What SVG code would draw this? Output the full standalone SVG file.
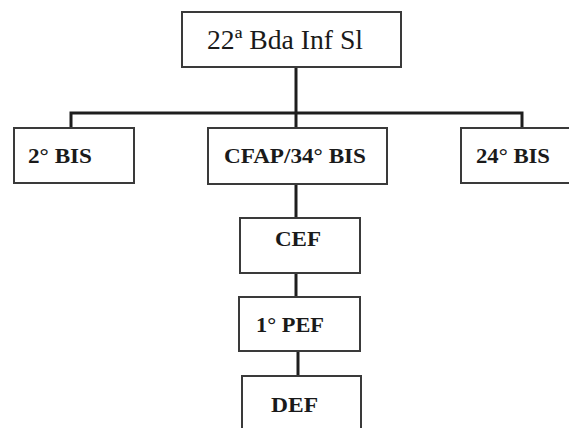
<svg xmlns="http://www.w3.org/2000/svg" width="569" height="428" viewBox="0 0 569 428">
<style>
.box{fill:#fff;stroke:#3a3a3a;stroke-width:2}
.lbl{font-family:'Liberation Serif','Times New Roman',serif;font-weight:bold;font-size:22px;fill:#1a1a1a}
.top{font-family:'Liberation Serif','Times New Roman',serif;font-size:28px;fill:#1a1a1a}
.con{stroke:#1e1e1e;stroke-width:3;fill:none}
</style>
<rect width="569" height="428" fill="#fff"/>
<g id="connectors">
<path class="con" d="M296 67V128"/>
<path class="con" d="M71 128V113H522V128"/>
<path class="con" d="M296 184V218"/>
<path class="con" d="M296 273V297"/>
<path class="con" d="M298 351V376"/>
</g>
<g id="n22bda"><rect class="box" x="182" y="12" width="219" height="55"/><text class="top" x="207" y="49" textLength="156" lengthAdjust="spacingAndGlyphs">22ª Bda Inf Sl</text></g>
<g id="n2bis"><rect class="box" x="14" y="128" width="120" height="55"/><text class="lbl" x="28" y="163" textLength="64" lengthAdjust="spacingAndGlyphs">2° BIS</text></g>
<g id="ncfap"><rect class="box" x="208" y="128" width="179" height="56"/><text class="lbl" x="224" y="163" textLength="142" lengthAdjust="spacingAndGlyphs">CFAP/34° BIS</text></g>
<g id="n24bis"><rect class="box" x="461" y="128" width="112" height="55"/><text class="lbl" x="476" y="163" textLength="74" lengthAdjust="spacingAndGlyphs">24° BIS</text></g>
<g id="ncef"><rect class="box" x="240" y="218" width="120" height="55"/><text class="lbl" x="275" y="246" textLength="46" lengthAdjust="spacingAndGlyphs">CEF</text></g>
<g id="n1pef"><rect class="box" x="239" y="297" width="121" height="54"/><text class="lbl" x="256" y="332" textLength="68" lengthAdjust="spacingAndGlyphs">1° PEF</text></g>
<g id="ndef"><rect class="box" x="242" y="376" width="119" height="60"/><text class="lbl" x="271" y="412" textLength="47" lengthAdjust="spacingAndGlyphs">DEF</text></g>
</svg>
